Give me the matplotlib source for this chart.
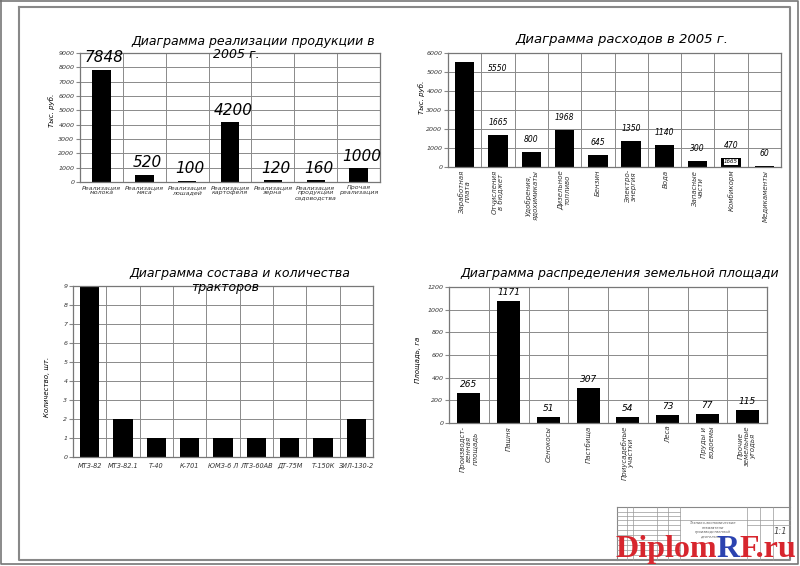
import matplotlib.pyplot as plt
import numpy as np

W, H = 800, 566

sales_cats = ['Реализация\nмолока', 'Реализация\nмяса', 'Реализация\nлошадей',
              'Реализация\nкартофеля', 'Реализация\nзерна',
              'Реализация\nпродукции\nсадоводства', 'Прочая\nреализация']
sales_vals = [7848, 520, 100, 4200, 120, 160, 1000]

cost_cats = ['Заработная\nплата', 'Отчисления\nв бюджет', 'Удобрения,\nядохимикаты',
             'Дизельное\nтопливо', 'Бензин', 'Электро-\nэнергия', 'Вода',
             'Запасные\nчасти', 'Комбикорм', 'Медикаменты']
cost_vals = [5550, 1665, 800, 1968, 645, 1350, 1140, 300, 470, 60]

tractor_cats = ['МТЗ-82', 'МТЗ-82.1', 'Т-40', 'К-701', 'ЮМЗ-6 Л', 'ЛТЗ-60АВ',
                'ДТ-75М', 'Т-150К', 'ЗИЛ-130-2']
tractor_vals = [9, 2, 1, 1, 1, 1, 1, 1, 2]

land_cats = ['Производст-\nвенная\nплощадь', 'Пашня', 'Сенокосы', 'Пастбища',
             'Приусадебные\nучастки', 'Леса', 'Пруды и\nводоемы',
             'Прочие\nземельные\nугодья']
land_vals = [265, 1075, 51, 307, 54, 73, 77, 115]
land_labels = ['265', '1171', '51', '307', '54', '73', '77', '115']

plt.rcParams['font.family'] = ['DejaVu Sans']
plt.rcParams['font.style'] = 'italic'

fig = plt.figure(figsize=(8, 5.66), dpi=100)


def px_box(l, t, r, b):
    return [l / W, 1 - b / H, (r - l) / W, (b - t) / H]


def ftext(x, y, s, **kw):
    # text placed in picture pixels, drawn above all axes
    kw.setdefault('ha', 'center')
    kw.setdefault('va', 'center')
    return fig.text(x / W, 1 - y / H, s, **kw)


def setup(ax, n, ymax, step):
    ax.set_xlim(-0.5, n - 0.5)
    ax.set_ylim(0, ymax)
    ax.set_yticks(np.arange(0, ymax + step, step))
    ax.set_xticks(np.arange(n))
    for x in np.arange(0.5, n - 0.5):
        ax.axvline(x, color='#8a8a8a', lw=0.7, zorder=0)
    ax.yaxis.grid(True, color='#8a8a8a', lw=0.7)
    ax.set_axisbelow(True)
    for s in ax.spines.values():
        s.set_color('#777777')
        s.set_linewidth(0.9)
    ax.tick_params(axis='y', length=3, color='#888888', labelsize=4.5,
                   labelcolor='#333333', pad=1)
    ax.tick_params(axis='x', length=0, labelsize=5, labelcolor='#333333', pad=2)


# --- drawing frame ---
frame = fig.add_axes([0, 0, 1, 1])
frame.set_xlim(0, W)
frame.set_ylim(H, 0)
frame.axis('off')
frame.plot([1, 798, 798, 1, 1], [1, 1, 564, 564, 1], color='#777777', lw=1.2)
frame.plot([19, 790, 790, 19, 19], [7, 7, 560, 560, 7], color='#888888', lw=1.5)
# title block
frame.plot([617, 790], [507, 507], color='#888888', lw=0.8)
frame.plot([617, 617], [507, 560], color='#888888', lw=0.8)
for x in [627, 633, 657, 668, 680, 747, 760, 773]:
    frame.plot([x, x], [507, 560], color='#999999', lw=0.5)
for y in [512, 516, 520, 525, 530, 535, 540, 545, 550, 555]:
    frame.plot([617, 680], [y, y], color='#999999', lw=0.5)
frame.plot([680, 790], [520, 520], color='#999999', lw=0.5)
frame.plot([747, 790], [525, 525], color='#999999', lw=0.5)
frame.text(713, 530, 'Технико-экономические\nпоказатели\nпроизводственной\nдеятельности',
           fontsize=2.6, ha='center', va='center', color='#555555')
frame.text(780, 531, '1:1', fontsize=6, ha='center', va='center', color='#444444')

# --- chart 1: sales ---
ax1 = fig.add_axes(px_box(80, 53, 380, 182))
setup(ax1, len(sales_vals), 9000, 1000)
ax1.bar(range(len(sales_vals)), sales_vals, width=0.43, color='black', zorder=2)
ax1.set_xticklabels(sales_cats, linespacing=1.0)
ax1.tick_params(axis='x', labelsize=4.5)
for i, v in enumerate(sales_vals):
    ax1.annotate(str(v), (i, v), xytext=(2, 3), textcoords='offset points',
                 ha='center', va='bottom', fontsize=11)
ftext(253, 41, 'Диаграмма реализации продукции в', fontsize=9)
ftext(236, 55, '2005 г.', fontsize=9)
ftext(52, 110, 'Тыс. руб.', fontsize=5, rotation=90)

# --- chart 2: costs ---
ax2 = fig.add_axes(px_box(448, 53, 781, 167))
setup(ax2, len(cost_vals), 6000, 1000)
ax2.bar(range(len(cost_vals)), cost_vals, width=0.58, color='black', zorder=2)
ax2.set_xticklabels(cost_cats, rotation=90, ha='center', va='top',
                    multialignment='center', linespacing=1.0)
for i, v in enumerate(cost_vals):
    if i == 0:
        ax2.text(1, v - 350, str(v), fontsize=5.5, ha='center', va='center')
    else:
        ax2.annotate(str(v), (i, v), xytext=(0, 9), textcoords='offset points',
                     ha='center', va='center', fontsize=5.5)
ax2.annotate(str(cost_vals[1]), (8, cost_vals[8]), xytext=(0, -1),
             textcoords='offset points', ha='center', va='top', fontsize=4,
             bbox=dict(boxstyle='square,pad=0.05', fc='white', ec='none'), zorder=3)
ftext(622, 40, 'Диаграмма расходов в 2005 г.', fontsize=9.5)
ftext(422, 97, 'Тыс. руб.', fontsize=5, rotation=90)

# --- chart 3: tractors ---
ax3 = fig.add_axes(px_box(73, 286, 373, 457))
setup(ax3, len(tractor_vals), 9, 1)
ax3.bar(range(len(tractor_vals)), tractor_vals, width=0.58, color='black', zorder=2)
ax3.set_xticklabels(tractor_cats)
ax3.tick_params(axis='x', pad=4, labelsize=4.7)
ftext(240, 273, 'Диаграмма состава и количества', fontsize=9)
ftext(225, 287, 'тракторов', fontsize=9)
ftext(47, 387, 'Количество, шт.', fontsize=5, rotation=90)

# --- chart 4: land ---
ax4 = fig.add_axes(px_box(449, 287, 767, 423))
setup(ax4, len(land_vals), 1200, 200)
ax4.bar(range(len(land_vals)), land_vals, width=0.58, color='black', zorder=2)
ax4.set_xticklabels(land_cats, rotation=90, ha='center', va='top',
                    multialignment='center', linespacing=1.0)
for i, v in enumerate(land_vals):
    ax4.annotate(land_labels[i], (i, v), xytext=(0, 6), textcoords='offset points',
                 ha='center', va='center', fontsize=6.5)
ftext(620, 273, 'Диаграмма распределения земельной площади', fontsize=9)
ftext(418, 360, 'Площадь, га', fontsize=5, rotation=90)

# --- watermark, pieces chained one after another ---
wm = dict(fontsize=23, family='Liberation Serif', weight='bold', style='normal',
          ha='left', va='baseline')
renderer = fig.canvas.get_renderer()
x0 = 615
for part, col in [('Diplom', '#d7262e'), ('R', '#2b43b0'), ('F.ru', '#d7262e')]:
    t = ftext(x0, 557, part, color=col, **wm)
    x0 = t.get_window_extent(renderer).x1 * W / fig.bbox.width

fig.savefig('out.png', dpi=100)
